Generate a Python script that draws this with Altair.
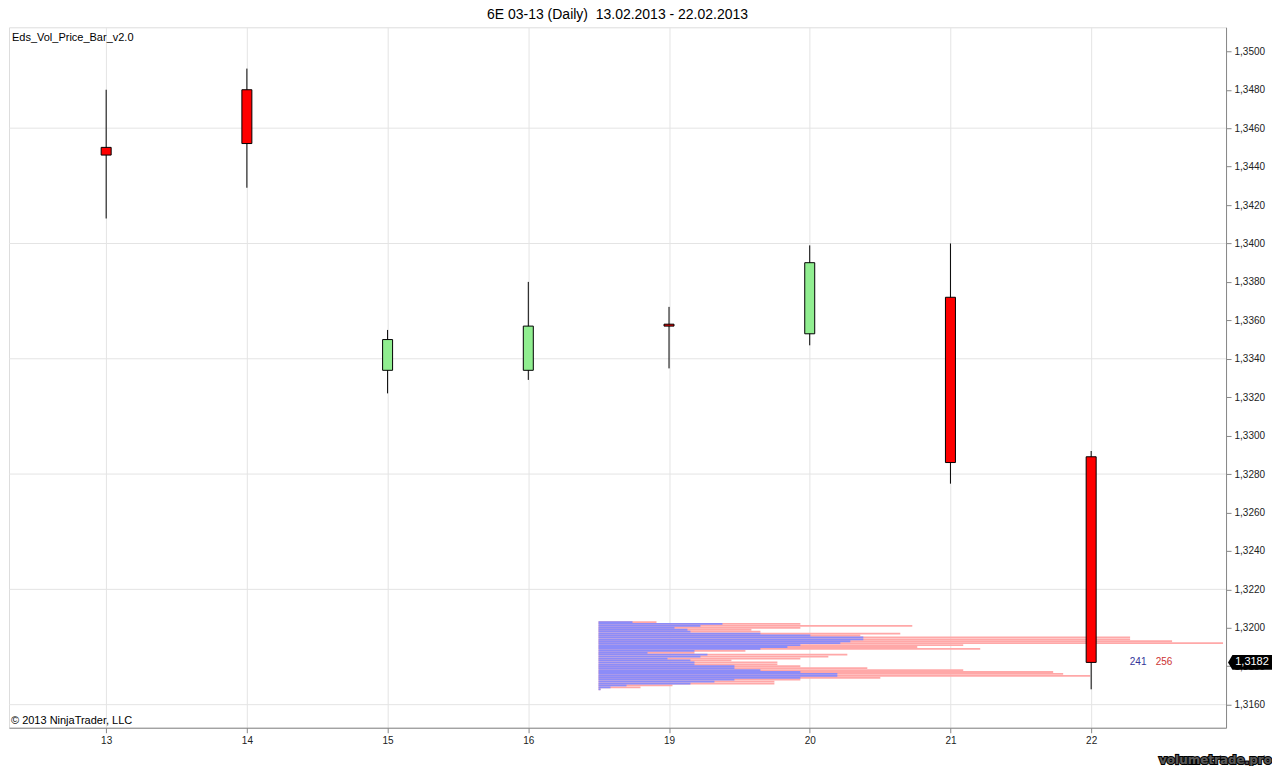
import json
import altair as alt
import pandas as pd

# ---------------- data ----------------
chart_title = "6E 03-13 (Daily)\u00a0\u00a013.02.2013 - 22.02.2013"
days = ["13", "14", "15", "16", "19", "20", "21", "22"]
opens = [1.3450, 1.3480, 1.3334, 1.3334, 1.3358, 1.3353, 1.3372, 1.3289]
highs = [1.3480, 1.3491, 1.3355, 1.3380, 1.3367, 1.3399, 1.3400, 1.3292]
lows = [1.3413, 1.3429, 1.3322, 1.3329, 1.3335, 1.3347, 1.3275, 1.3168]
closes = [1.3446, 1.3452, 1.3350, 1.3357, 1.3357, 1.3390, 1.3286, 1.3182]

y_ticks = [1.316, 1.318, 1.320, 1.322, 1.324, 1.326, 1.328, 1.330, 1.332,
           1.334, 1.336, 1.338, 1.340, 1.342, 1.344, 1.346, 1.348, 1.350]
grid_prices = [1.316, 1.322, 1.328, 1.334, 1.340, 1.346]

# volume profile (price level, total volume, buy volume)
profile_prices = [1.3203, 1.3202, 1.3201, 1.3200, 1.3199, 1.3198, 1.3197, 1.3196,
                  1.3195, 1.3194, 1.3193, 1.3192, 1.3191, 1.3190, 1.3189, 1.3188,
                  1.3187, 1.3186, 1.3185, 1.3184, 1.3183, 1.3182, 1.3181, 1.3180,
                  1.3179, 1.3178, 1.3177, 1.3176, 1.3175, 1.3174, 1.3173, 1.3172,
                  1.3171, 1.3170, 1.3169, 1.3168]
profile_total = [580, 2020, 3140, 2020, 1530, 1620, 3020, 2620,
                 5320, 5320, 5740, 6250, 3650, 3190, 3820, 1470,
                 960, 2490, 2300, 2020, 1330, 1790, 1790, 2020,
                 2690, 3650, 4550, 4650, 4920, 2820, 2020, 1760,
                 1760, 740, 420, 20]
profile_buy = [340, 1240, 1020, 760, 890, 920, 1620, 2120,
               2650, 2650, 2520, 2420, 2020, 1890, 1620, 960,
               490, 1090, 1020, 690, 920, 960, 960, 1360,
               1360, 1620, 2020, 2390, 2390, 2020, 1360, 1160,
               920, 280, 120, 20]

last_price = 1.3182
up_count = "241"
down_count = "256"

# ---------------- layout ----------------
W, H = 1218, 701
FONT = "Liberation Sans"

cdf = pd.DataFrame({
    "idx": list(range(len(days))),
    "day": days,
    "open": opens, "high": highs, "low": lows, "close": closes,
})
cdf["dir"] = ["down" if c < o else "up" for o, c in zip(opens, closes)]

pdf = pd.DataFrame({"price": profile_prices, "total": profile_total, "buy": profile_buy})
pdf["zero"] = 0

yscale = alt.Scale(domain=[1.3148, 1.35125], nice=False, zero=False)
xscale = alt.Scale(domain=[-0.655, 7.923], nice=False, zero=False)
pscale = alt.Scale(domain=[-5900, 6280], nice=False, zero=False)

yaxis = alt.Axis(orient="right", values=y_ticks, grid=False, title=None,
                 labelExpr="replace(format(datum.value, '.4f'), '.', ',')",
                 tickSize=5, labelPadding=3, labelColor="#222")
xaxis = alt.Axis(values=list(range(len(days))), title=None, grid=True,
                 gridColor="#e4e4e4", tickSize=5, labelPadding=3,
                 labelExpr=json.dumps(days) + "[datum.value]", labelColor="#222")

grid = alt.Chart(pd.DataFrame({"gp": grid_prices})).mark_rule(
    color="#e4e4e4", strokeWidth=1
).encode(y=alt.Y("gp:Q", scale=yscale, axis=yaxis))

pink = alt.Chart(pdf).mark_rule(color="#ffa8a8", strokeWidth=1.8).encode(
    x=alt.X("zero:Q", scale=pscale, axis=None),
    x2="total:Q",
    y=alt.Y("price:Q", scale=yscale),
)
blue = alt.Chart(pdf).mark_rule(color="#8c8cf8", strokeWidth=1.8).encode(
    x=alt.X("zero:Q", scale=pscale, axis=None),
    x2="buy:Q",
    y=alt.Y("price:Q", scale=yscale),
)
profile = alt.layer(pink, blue)

wick = alt.Chart(cdf).mark_rule(color="black", strokeWidth=1).encode(
    x=alt.X("idx:Q", scale=xscale, axis=xaxis),
    y=alt.Y("low:Q", scale=yscale),
    y2="high:Q",
)
body = alt.Chart(cdf).mark_bar(size=10, stroke="black", strokeWidth=1).encode(
    x=alt.X("idx:Q", scale=xscale),
    y=alt.Y("open:Q", scale=yscale),
    y2="close:Q",
    color=alt.Color("dir:N", scale=alt.Scale(domain=["down", "up"],
                                             range=["#ff0000", "#90ee90"]),
                    legend=None),
)
candles = alt.layer(wick, body)

lp = pd.DataFrame({"price": [last_price], "lbl": ["1,3182"],
                   "up": [up_count], "down": [down_count]})

up_txt = alt.Chart(lp).mark_text(font=FONT, fontSize=10, color="#333399",
                                 align="center", baseline="middle").encode(
    x=alt.value(W - 88), y=alt.Y("price:Q", scale=yscale), text="up:N")
down_txt = alt.Chart(lp).mark_text(font=FONT, fontSize=10, color="#cc3333",
                                   align="center", baseline="middle").encode(
    x=alt.value(W - 62), y=alt.Y("price:Q", scale=yscale), text="down:N")

box_path = "M -1 0 L -0.8 -0.34 L 1 -0.34 L 1 0.34 L -0.8 0.34 Z"
box = alt.Chart(lp).mark_point(shape=box_path, size=1936, filled=True,
                               color="black", opacity=1).encode(
    x=alt.value(W + 24), y=alt.Y("price:Q", scale=yscale))
box_txt = alt.Chart(lp).mark_text(font=FONT, fontSize=11, color="white",
                                  align="center", baseline="middle").encode(
    x=alt.value(W + 26), y=alt.Y("price:Q", scale=yscale), text="lbl:N")

notes = pd.DataFrame({"t": ["Eds_Vol_Price_Bar_v2.0"]})
ind_txt = alt.Chart(notes).mark_text(font=FONT, fontSize=11, color="black",
                                     align="left", baseline="middle").encode(
    x=alt.value(3), y=alt.value(11), text="t:N")
copy_txt = alt.Chart(pd.DataFrame({"t": ["\u00a9 2013 NinjaTrader, LLC"]})).mark_text(
    font=FONT, fontSize=11, color="black", align="left", baseline="middle").encode(
    x=alt.value(2), y=alt.value(H - 7), text="t:N")
wm_txt = alt.Chart(pd.DataFrame({"t": ["volumetrade.pro"]})).mark_text(
    font="DejaVu Sans", fontSize=12, fontWeight="bold", fill="white",
    stroke="black", strokeWidth=2.2, align="right", baseline="alphabetic").encode(
    x=alt.value(W + 46), y=alt.value(H + 36), text="t:N")
wm_txt2 = alt.Chart(pd.DataFrame({"t": ["volumetrade.pro"]})).mark_text(
    font="DejaVu Sans", fontSize=12, fontWeight="bold", color="white",
    align="right", baseline="alphabetic", opacity=0.35).encode(
    x=alt.value(W + 46), y=alt.value(H + 36), text="t:N")

chart = alt.layer(
    grid, profile, candles, up_txt, down_txt, box, box_txt,
    ind_txt, copy_txt, wm_txt, wm_txt2
).resolve_scale(x="independent").properties(
    width=W, height=H, padding=0,
    title=alt.Title(chart_title, fontSize=14, font=FONT, fontWeight="normal",
                    color="black", anchor="middle", offset=5),
).configure_view(stroke="black", strokeWidth=1).configure_axis(
    labelFont=FONT, labelFontSize=11, tickColor="black", domainColor="black",
).configure(background="white")

chart.save("out.html", embed_options={"renderer": "svg", "actions": False})
